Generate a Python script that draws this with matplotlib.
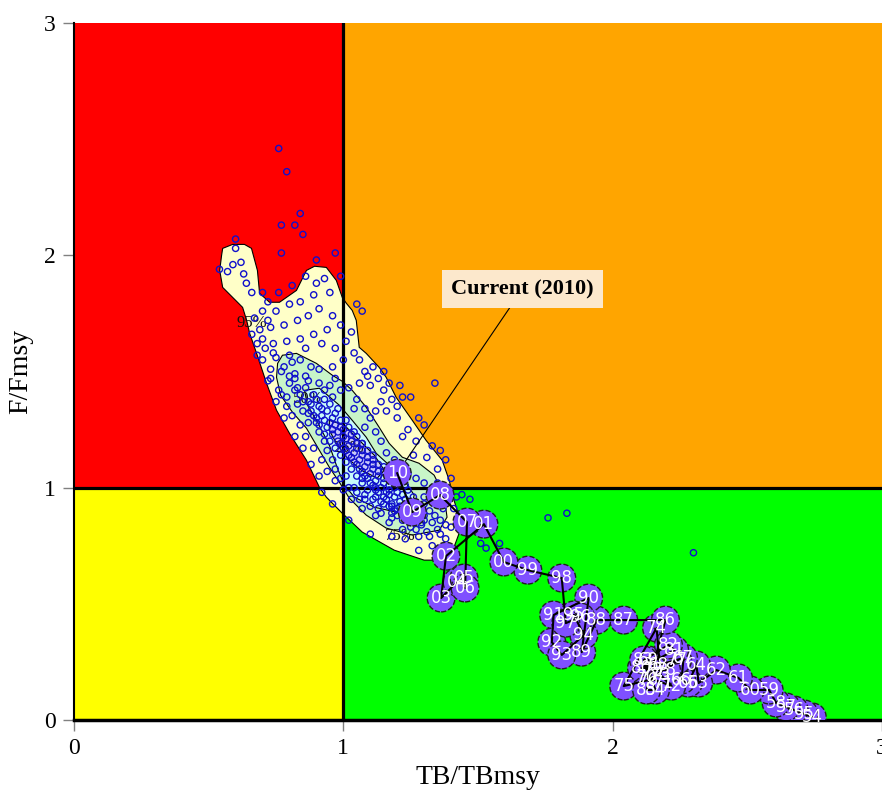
import numpy as np
import matplotlib.pyplot as plt
from matplotlib.patches import Polygon

# trajectory, 1954-2010
years = list(range(1954, 2011))
traj_b = [2.741, 2.711, 2.674, 2.644, 2.607, 2.581, 2.511, 2.467, 2.385, 2.319,
          2.311, 2.281, 2.256, 2.263, 2.170, 2.133, 2.126, 2.189, 2.219, 2.178,
          2.163, 2.041, 2.133, 2.241, 2.200, 2.152, 2.107, 2.230, 2.207, 2.115,
          2.159, 2.126, 2.196, 2.041, 1.941, 1.885, 1.911, 1.781, 1.774, 1.811,
          1.893, 1.856, 1.881, 1.826, 1.811, 1.685, 1.596, 1.522, 1.381, 1.363,
          1.422, 1.448, 1.452, 1.459, 1.359, 1.256, 1.200]
traj_f = [0.013, 0.026, 0.043, 0.056, 0.073, 0.129, 0.129, 0.181, 0.215, 0.159,
          0.237, 0.159, 0.172, 0.267, 0.237, 0.258, 0.185, 0.159, 0.146, 0.194,
          0.396, 0.146, 0.172, 0.258, 0.215, 0.215, 0.224, 0.301, 0.323, 0.258,
          0.129, 0.129, 0.430, 0.430, 0.430, 0.292, 0.525, 0.452, 0.335, 0.280,
          0.366, 0.452, 0.443, 0.417, 0.611, 0.645, 0.680, 0.843, 0.705, 0.525,
          0.594, 0.611, 0.568, 0.852, 0.968, 0.895, 1.062]

# current-year bootstrap / MCMC points
pts_b = [0.76, 0.79, 0.84, 0.82, 0.77, 0.85, 0.77, 0.90, 0.97, 1.05, 0.60, 0.60, 0.62, 0.59,
         0.54, 0.57, 0.63, 0.64, 0.66, 0.70, 0.72, 0.76, 0.81, 0.86, 0.90, 0.93, 0.95, 0.89,
         0.84, 0.80, 0.75, 0.70, 0.67, 0.69, 0.73, 0.78, 0.83, 0.87, 0.91, 0.96, 0.99, 0.94,
         0.89, 0.84, 0.79, 0.74, 0.71, 0.68, 0.70, 0.75, 0.80, 0.86, 0.92, 0.97, 1.01, 1.03,
         1.04, 1.00, 0.96, 0.91, 0.86, 0.82, 0.77, 0.73, 0.72, 0.76, 1.08, 1.11, 1.13, 1.10,
         1.06, 1.15, 1.18, 1.22, 1.25, 1.34, 1.28, 1.30, 1.24, 1.20, 1.16, 1.33, 1.36, 1.38,
         1.35, 1.40, 1.42, 1.43, 1.40, 1.38, 1.33, 1.28, 1.76, 1.83, 2.30, 1.51, 1.53, 1.58,
         1.44, 1.47, 1.10, 1.02, 0.96, 0.92,
         0.80, 0.82, 0.79, 0.84, 0.86, 0.83, 0.87, 0.89, 0.85, 0.88, 0.91, 0.93, 0.90, 0.92,
         0.94, 0.87, 0.96, 0.91, 0.94, 0.97, 0.99, 0.93, 0.96, 0.98, 1.00, 0.95, 0.98, 1.01,
         1.03, 0.97, 1.00, 1.02, 1.05, 0.99, 1.02, 1.04, 1.07, 1.01, 1.04, 1.06, 1.09, 1.03,
         1.06, 1.08, 1.11, 1.05, 1.08, 1.10, 1.13, 1.07, 1.10, 1.12, 1.15, 1.09, 1.12, 1.14,
         1.17, 1.12, 1.15, 1.17, 1.20, 1.15, 1.18, 1.21, 1.23, 1.19, 1.22, 1.25, 1.27, 1.24,
         1.27, 1.30, 1.32, 1.29, 1.33, 1.36, 1.31, 1.35, 1.38,
         0.88, 0.90, 0.92, 0.95, 0.89, 0.93, 0.97, 0.95, 0.99, 0.96, 1.00, 1.02, 0.99, 1.03,
         1.05, 1.01, 1.05, 1.07, 1.03, 1.07, 1.09, 1.05, 1.09, 1.11, 1.07, 1.11, 1.13, 1.09,
         1.13, 1.15, 1.11, 1.15, 1.17, 1.13, 1.17, 1.19, 1.16, 1.19, 1.22, 1.18, 1.21, 1.24,
         1.20, 1.23, 1.26, 1.28, 1.25, 1.30, 1.27, 1.34,
         0.78, 0.81, 0.84, 0.88, 0.82, 0.87, 0.91, 0.95, 0.99, 0.97, 1.02, 1.05, 1.08, 1.04,
         1.10, 1.12, 1.08, 1.14, 1.16, 1.19, 1.21, 1.24, 1.27, 1.30, 1.33, 1.36, 1.30, 1.34,
         1.37, 1.32, 1.28, 1.22, 1.17, 1.12, 1.07, 1.03, 1.00, 0.97, 0.94, 0.92, 0.89, 0.86,
         0.84, 0.81, 0.79, 0.77, 0.80, 1.01, 1.04, 1.08, 1.13, 1.18,
         1.05, 1.08, 1.11, 1.14, 1.17, 1.20, 1.23, 1.26, 1.29, 1.14, 1.18, 1.22, 1.25, 1.10,
         1.06, 1.02, 0.99, 0.97, 0.96, 0.94, 0.93, 0.91, 0.90, 0.87, 0.85, 0.83, 1.07, 1.12,
         1.16, 1.20, 1.24, 1.26, 1.30, 1.23, 1.19, 1.15, 1.11, 1.07, 1.04, 1.01, 0.98, 0.96,
         0.93,
         1.06, 1.09, 1.17, 1.20, 1.14, 1.12, 1.22, 1.27, 1.31, 1.26, 1.35, 1.39, 1.41, 1.36,
         1.23, 1.18,
         0.72, 0.66, 0.70, 0.74, 0.68, 0.73, 0.75, 0.78, 0.82, 0.85, 0.88, 0.91,
         1.07, 1.15, 1.21, 0.99]
pts_f = [2.46, 2.36, 2.18, 2.13, 2.13, 2.09, 2.01, 1.98, 2.01, 1.79, 2.07, 2.03, 1.97, 1.96,
         1.94, 1.93, 1.92, 1.88, 1.84, 1.84, 1.80, 1.84, 1.87, 1.91, 1.88, 1.90, 1.84, 1.83,
         1.80, 1.79, 1.76, 1.76, 1.73, 1.68, 1.69, 1.70, 1.72, 1.74, 1.77, 1.74, 1.70, 1.68,
         1.66, 1.64, 1.63, 1.62, 1.60, 1.62, 1.55, 1.56, 1.57, 1.60, 1.62, 1.60, 1.63, 1.67,
         1.58, 1.55, 1.52, 1.51, 1.48, 1.47, 1.50, 1.51, 1.46, 1.42, 1.50, 1.52, 1.47, 1.44,
         1.45, 1.42, 1.38, 1.39, 1.39, 1.45, 1.30, 1.27, 1.25, 1.30, 1.33, 1.18, 1.16, 1.12,
         1.08, 1.04, 0.96, 0.88, 0.83, 0.78, 0.75, 0.73, 0.87, 0.89, 0.72, 0.76, 0.74, 0.76,
         0.97, 0.95, 0.80, 0.86, 0.93, 0.98,
         1.45, 1.42, 1.39, 1.40, 1.43, 1.36, 1.37, 1.40, 1.33, 1.33, 1.35, 1.38, 1.30, 1.31,
         1.33, 1.28, 1.30, 1.27, 1.26, 1.27, 1.29, 1.23, 1.23, 1.24, 1.25, 1.20, 1.20, 1.21,
         1.23, 1.17, 1.17, 1.18, 1.19, 1.14, 1.14, 1.15, 1.16, 1.11, 1.11, 1.12, 1.13, 1.08,
         1.08, 1.09, 1.10, 1.05, 1.05, 1.06, 1.07, 1.02, 1.02, 1.03, 1.04, 0.99, 0.99, 1.00,
         1.01, 0.96, 0.96, 0.97, 0.98, 0.93, 0.93, 0.94, 0.95, 0.90, 0.90, 0.91, 0.92, 0.87,
         0.87, 0.88, 0.90, 0.84, 0.85, 0.86, 0.81, 0.82, 0.84,
         1.36, 1.38, 1.34, 1.36, 1.31, 1.29, 1.32, 1.28, 1.26, 1.25, 1.22, 1.26, 1.19, 1.20,
         1.22, 1.16, 1.17, 1.19, 1.13, 1.14, 1.16, 1.10, 1.11, 1.12, 1.07, 1.08, 1.10, 1.04,
         1.05, 1.07, 1.01, 1.02, 1.04, 0.98, 0.99, 1.00, 0.95, 0.96, 0.97, 0.92, 0.92, 0.93,
         0.88, 0.89, 0.89, 0.90, 0.85, 0.86, 0.82, 0.88,
         1.52, 1.54, 1.55, 1.52, 1.49, 1.46, 1.45, 1.44, 1.42, 1.47, 1.43, 1.38, 1.34, 1.34,
         1.30, 1.24, 1.26, 1.20, 1.15, 1.12, 1.09, 1.06, 1.04, 1.02, 0.99, 0.97, 0.96, 0.93,
         0.91, 0.79, 0.79, 0.82, 0.85, 0.88, 0.91, 0.95, 0.99, 1.03, 1.07, 1.12, 1.17, 1.22,
         1.27, 1.31, 1.35, 1.40, 1.48, 1.05, 1.00, 0.95, 0.91, 0.87,
         0.98, 0.97, 0.95, 0.94, 0.92, 0.91, 0.88, 0.86, 0.85, 0.89, 0.89, 0.86, 0.83, 0.92,
         0.95, 1.00, 1.04, 1.08, 1.12, 1.16, 1.20, 1.24, 1.28, 1.32, 1.37, 1.43, 1.04, 1.00,
         0.98, 1.02, 0.99, 0.96, 0.93, 1.01, 1.05, 1.09, 1.14, 1.19, 1.24, 1.29, 1.34, 1.39,
         1.42,
         1.55, 1.48, 1.45, 1.35, 1.37, 1.33, 1.22, 1.20, 1.13, 1.14, 1.02, 0.98, 0.91, 0.80,
         0.78, 0.79,
         1.72, 1.66, 1.64, 1.58, 1.57, 1.47, 1.37, 1.30, 1.22, 1.17, 1.10, 1.05,
         1.76, 1.50, 1.44, 1.91]

# probability contour outlines
c95_b = [0.552, 0.589, 0.633, 0.659, 0.681, 0.689, 0.726, 0.763, 0.826, 0.863, 0.893, 0.937,
         0.974, 0.996, 1.011, 1.033, 1.048, 1.059, 1.085, 1.133, 1.159, 1.196, 1.256, 1.307,
         1.367, 1.393, 1.411, 1.430, 1.430, 1.411, 1.393, 1.300, 1.189, 1.070, 0.996, 0.937,
         0.911, 0.863, 0.800, 0.752, 0.715, 0.678, 0.652, 0.641, 0.626, 0.589, 0.552, 0.541,
         0.548]
c95_f = [2.030, 2.047, 2.047, 2.030, 1.935, 1.837, 1.798, 1.798, 1.849, 1.935, 1.953, 1.948,
         1.892, 1.819, 1.794, 1.763, 1.720, 1.604, 1.578, 1.518, 1.475, 1.389, 1.290, 1.204,
         1.118, 1.032, 0.946, 0.873, 0.804, 0.744, 0.688, 0.688, 0.731, 0.809, 0.890, 0.959,
         1.002, 1.118, 1.234, 1.333, 1.449, 1.578, 1.665, 1.720, 1.776, 1.819, 1.862, 1.935,
         2.000]
c75_b = [0.774, 0.826, 0.900, 0.959, 0.996, 1.033, 1.085, 1.133, 1.170, 1.219, 1.281, 1.337,
         1.374, 1.385, 1.356, 1.256, 1.159, 1.085, 1.022, 0.985, 0.948, 0.911, 0.863, 0.811,
         0.767, 0.752, 0.756]
c75_f = [1.570, 1.578, 1.535, 1.484, 1.458, 1.419, 1.346, 1.260, 1.191, 1.131, 1.105, 1.054,
         0.968, 0.873, 0.817, 0.796, 0.826, 0.882, 0.955, 1.024, 1.088, 1.161, 1.256, 1.325,
         1.398, 1.475, 1.535]
c50_b = [0.856, 0.911, 0.985, 1.033, 1.085, 1.122, 1.170, 1.226, 1.263, 1.252, 1.196, 1.115,
         1.041, 1.004, 0.978, 0.948, 0.904, 0.867]
c50_f = [1.419, 1.428, 1.355, 1.290, 1.217, 1.148, 1.097, 1.032, 0.968, 0.912, 0.895, 0.916,
         0.959, 1.011, 1.084, 1.183, 1.282, 1.355]
c25_b = [0.948, 1.004, 1.059, 1.115, 1.152, 1.126, 1.067, 1.015, 0.978, 0.948]
c25_f = [1.290, 1.269, 1.204, 1.140, 1.075, 1.041, 1.075, 1.127, 1.183, 1.247]

contours = [(c95_b, c95_f, '#FFFFC8'), (c75_b, c75_f, '#C8F5C8'),
            (c50_b, c50_f, '#C8FAFA'), (c25_b, c25_f, '#C8C8FA')]
contour_labels = ['95%', '75%', '50%', '25%']
label_b = [0.66, 1.21, 0.87, 1.02]
label_f = [1.71, 0.79, 1.38, 1.17]

fig = plt.figure(figsize=(8.82, 7.96), dpi=100)
ax = fig.add_axes([74/882, 76/796, 808/882, 697/796])

# Kobe quadrants
ax.fill_between([0, 1], 1, 3, color='#FF0000', lw=0, zorder=0)
ax.fill_between([1, 3], 1, 3, color='#FFA500', lw=0, zorder=0)
ax.fill_between([0, 1], 0, 1, color='#FFFF00', lw=0, zorder=0)
ax.fill_between([1, 3], 0, 1, color='#00FF00', lw=0, zorder=0)

for cb, cf, col in contours:
    ax.add_patch(Polygon(np.column_stack([cb, cf]), closed=True, facecolor=col,
                         edgecolor='black', lw=0.8, zorder=1))
for txt, lb, lf in zip(contour_labels, label_b, label_f):
    ax.text(lb, lf, txt, fontsize=12, family='Liberation Serif', color='#101010',
            ha='center', va='center', zorder=2)

ax.axvline(1, color='black', lw=2.3, zorder=3)
ax.axhline(1, color='black', lw=2.3, zorder=3)

ax.scatter(pts_b, pts_f, s=20, facecolors='none', edgecolors='#1010CC', lw=1.0, zorder=4)

ax.annotate('Current (2010)', xy=(traj_b[-1], traj_f[-1]), xytext=(1.665, 1.855),
            fontsize=16, fontweight='bold', family='Liberation Serif', ha='center', va='center',
            bbox=dict(boxstyle='square,pad=0.4', fc='#FCE8CC', ec='none'),
            arrowprops=dict(arrowstyle='-', color='black', lw=0.8, shrinkA=0, shrinkB=0),
            zorder=5)

ax.scatter(traj_b, traj_f, s=400, color='#7F50FF', edgecolors='#202020', lw=1,
           linestyles='--', zorder=6)
ax.plot(traj_b, traj_f, color='black', lw=1.5, zorder=7)
for yr, b, f in zip(years, traj_b, traj_f):
    ax.text(b, f, '%02d' % (yr % 100), color='white', fontsize=12, ha='center',
            va='center', zorder=8)

ax.set_xlim(0, 808/270)
ax.set_ylim(0, 3)
ax.set_xticks([0, 1, 2, 3])
ax.set_yticks([0, 1, 2, 3])
for s in ['top', 'right']:
    ax.spines[s].set_visible(False)
ax.spines['left'].set_linewidth(1.5)
ax.spines['bottom'].set_linewidth(2.5)
ax.tick_params(direction='out', length=8, width=1, color='#808080', labelsize=17, pad=5)
for lab in ax.get_xticklabels() + ax.get_yticklabels():
    lab.set_family('Liberation Serif')
ax.set_xlabel('TB/TBmsy', fontsize=20, family='Liberation Serif', labelpad=4)
ax.set_ylabel('F/Fmsy', fontsize=20, family='Liberation Serif', labelpad=8)

fig.savefig('out.png', dpi=100)
